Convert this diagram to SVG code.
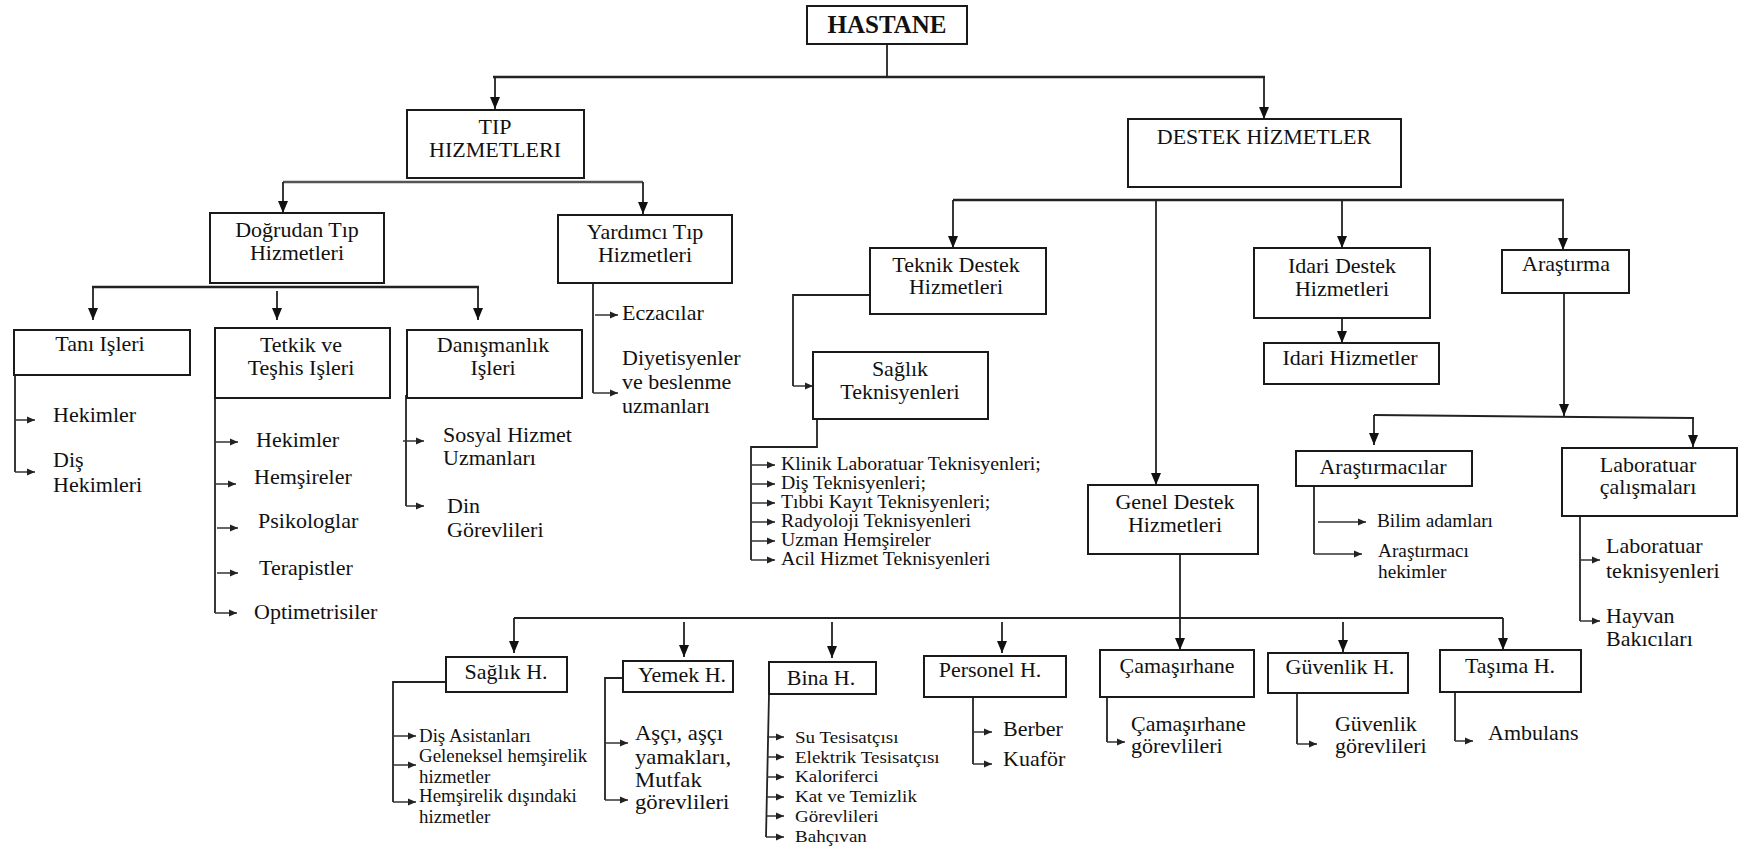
<svg xmlns="http://www.w3.org/2000/svg" width="1738" height="851" viewBox="0 0 1738 851" font-family="'Liberation Serif', 'Times New Roman', Times, serif">
<style>
text{font-size:22px;fill:#111}
.c{text-anchor:middle}
.b{font-weight:bold;font-size:25px}
.s20{font-size:18px}
.s19{font-size:18px}
.s18{font-size:17px}
.s21{font-size:21px}
.s22{font-size:20px}
rect{fill:#fff;stroke:#1a1a1a;stroke-width:2}
.ln{fill:none;stroke:#222;stroke-width:1.8}
.hv{fill:none;stroke:#222;stroke-width:2.6}
.ar{fill:none;stroke:#222;stroke-width:1.8;marker-end:url(#ah)}
.sa{fill:none;stroke:#333;stroke-width:1.5;marker-end:url(#sh)}
</style>
<defs>
<marker id="ah" viewBox="0 0 12 10" refX="12" refY="5" markerWidth="12" markerHeight="10" markerUnits="userSpaceOnUse" orient="auto"><path d="M0,0 L12,5 L0,10 z" fill="#111"/></marker>
<marker id="sh" viewBox="0 0 8 8" refX="8" refY="4" markerWidth="8" markerHeight="8" markerUnits="userSpaceOnUse" orient="auto"><path d="M0,0.5 L8,4 L0,7.5 z" fill="#222"/></marker>
</defs>
<rect x="0" y="0" width="1738" height="851" style="fill:#fff;stroke:none"/>

<g id="connectors">
<path class="ln" d="M887,44 V77"/>
<path class="hv" d="M493,77 H1265"/>
<path class="ar" d="M495,77 V109"/>
<path class="ar" d="M1264,77 V119"/>
<path class="hv" d="M283,182 H643" style="stroke:#555"/>
<path class="ar" d="M283,182 V213"/>
<path class="ar" d="M643,182 V214"/>
<path class="hv" d="M92,287 H479"/>
<path class="ar" d="M93,287 V320"/>
<path class="ar" d="M277,291 V320"/>
<path class="ar" d="M478,287 V320"/>
<path class="ln" d="M15,375 V472"/>
<path class="sa" d="M15,420 H35"/>
<path class="sa" d="M15,472 H35"/>
<path class="ln" d="M215,398 V613"/>
<path class="sa" d="M216,442 H238"/>
<path class="sa" d="M215,484 H236"/>
<path class="sa" d="M217,528 H238"/>
<path class="sa" d="M217,573 H238"/>
<path class="sa" d="M215,613 H237"/>
<path class="ln" d="M406,395 V506"/>
<path class="sa" d="M403,441 H424"/>
<path class="sa" d="M406,506 H424"/>
<path class="ln" d="M593,283 V393"/>
<path class="sa" d="M595,315 H618"/>
<path class="sa" d="M593,393 H618"/>
<path class="hv" d="M953,200 H1564"/>
<path class="ar" d="M953,200 V248"/>
<path class="ar" d="M1156,200 V485"/>
<path class="ar" d="M1342,200 V248"/>
<path class="ar" d="M1563,200 V250"/>
<path class="ln" d="M870,295 H793 V386"/>
<path class="sa" d="M793,386 H813"/>
<path class="ln" d="M817,419 V447 H751 V560"/>
<path class="sa" d="M752,465 H775"/>
<path class="sa" d="M752,484 H775"/>
<path class="sa" d="M752,503 H775"/>
<path class="sa" d="M752,522 H775"/>
<path class="sa" d="M752,541 H775"/>
<path class="sa" d="M751,560 H775"/>
<path class="ar" d="M1342,318 V343"/>
<path class="ar" d="M1564,293 V416"/>
<path class="hv" d="M1374,415 L1694,418" style="stroke-width:2"/>
<path class="ar" d="M1374,415 V445"/>
<path class="ar" d="M1693,418 V447"/>
<path class="ln" d="M1314,486 V554"/>
<path class="sa" d="M1318,522 H1366"/>
<path class="sa" d="M1314,554 H1362"/>
<path class="ln" d="M1580,516 V621"/>
<path class="sa" d="M1580,560 H1600"/>
<path class="sa" d="M1580,621 H1600"/>
<path class="ar" d="M1180,554 V650"/>
<path class="hv" d="M514,618 H1503" style="stroke-width:2.2"/>
<path class="ar" d="M514,618 V653"/>
<path class="ar" d="M684,622 V657"/>
<path class="ar" d="M832,622 V658"/>
<path class="ar" d="M1002,622 V653"/>
<path class="ar" d="M1343,622 V652"/>
<path class="ar" d="M1503,618 V650"/>
<path class="ln" d="M446,682 H393 V802"/>
<path class="sa" d="M393,736 H416"/>
<path class="sa" d="M393,765 H416"/>
<path class="sa" d="M393,802 H416"/>
<path class="ln" d="M623,678 H605 V800"/>
<path class="sa" d="M605,743 H628"/>
<path class="sa" d="M605,800 H628"/>
<path class="ln" d="M769,694 L766,837"/>
<path class="sa" d="M767,737 H784"/>
<path class="sa" d="M767,757 H784"/>
<path class="sa" d="M767,777 H784"/>
<path class="sa" d="M767,797 H784"/>
<path class="sa" d="M767,816 H784"/>
<path class="sa" d="M766,837 H784"/>
<path class="ln" d="M973,697 V764"/>
<path class="sa" d="M973,732 H992"/>
<path class="sa" d="M973,764 H992"/>
<path class="ln" d="M1107,697 V742"/>
<path class="sa" d="M1107,742 H1125"/>
<path class="ln" d="M1297,693 V744"/>
<path class="sa" d="M1297,744 H1317"/>
<path class="ln" d="M1455,692 V741"/>
<path class="sa" d="M1455,741 H1473"/>
</g>

<g id="hastane"><rect x="807" y="6" width="160" height="38"/><text class="c b" x="887" y="33">HASTANE</text></g>
<g id="tip"><rect x="407" y="110" width="177" height="68"/><text class="c" x="495" y="134">TIP</text><text class="c" x="495" y="157">HIZMETLERI</text></g>
<g id="destek"><rect x="1128" y="119" width="273" height="68"/><text class="c" x="1264" y="144">DESTEK HİZMETLER</text></g>

<g id="dogrudan"><rect x="210" y="213" width="174" height="70"/><text class="c" x="297" y="237">Doğrudan Tıp</text><text class="c" x="297" y="260">Hizmetleri</text></g>
<g id="yardimci"><rect x="558" y="215" width="174" height="68"/><text class="c" x="645" y="239">Yardımcı Tıp</text><text class="c" x="645" y="262">Hizmetleri</text></g>
<g id="yardimci-list"><text x="622" y="320">Eczacılar</text><text x="622" y="365">Diyetisyenler</text><text x="622" y="389">ve beslenme</text><text x="622" y="413">uzmanları</text></g>

<g id="tani"><rect x="14" y="330" width="176" height="45"/><text class="c" x="100" y="351">Tanı Işleri</text></g>
<g id="tani-list"><text x="53" y="422">Hekimler</text><text x="53" y="467">Diş</text><text x="53" y="492">Hekimleri</text></g>

<g id="tetkik"><rect x="215" y="328" width="175" height="70"/><text class="c" x="301" y="352">Tetkik ve</text><text class="c" x="301" y="375">Teşhis Işleri</text></g>
<g id="tetkik-list"><text x="256" y="447">Hekimler</text><text x="254" y="484">Hemşireler</text><text x="258" y="528">Psikologlar</text><text x="259" y="575">Terapistler</text><text x="254" y="619">Optimetrisiler</text></g>

<g id="danismanlik"><rect x="407" y="330" width="175" height="68"/><text class="c" x="493" y="352">Danışmanlık</text><text class="c" x="493" y="375">Işleri</text></g>
<g id="danismanlik-list"><text x="443" y="442">Sosyal Hizmet</text><text x="443" y="465">Uzmanları</text><text x="447" y="513">Din</text><text x="447" y="537">Görevlileri</text></g>

<g id="teknik"><rect x="870" y="248" width="176" height="66"/><text class="c" x="956" y="272">Teknik Destek</text><text class="c" x="956" y="294">Hizmetleri</text></g>
<g id="saglik-tek"><rect x="813" y="352" width="175" height="67"/><text class="c" x="900" y="376">Sağlık</text><text class="c" x="900" y="399">Teknisyenleri</text></g>
<g id="saglik-tek-list" transform="translate(781,0) scale(1.1,1) translate(-781,0)"><text class="s20" x="781" y="470">Klinik Laboratuar Teknisyenleri;</text><text class="s20" x="781" y="489">Diş Teknisyenleri;</text><text class="s20" x="781" y="508">Tıbbi Kayıt Teknisyenleri;</text><text class="s20" x="781" y="527">Radyoloji Teknisyenleri</text><text class="s20" x="781" y="546">Uzman Hemşireler</text><text class="s20" x="781" y="565">Acil Hizmet Teknisyenleri</text></g>

<g id="idari"><rect x="1254" y="248" width="176" height="70"/><text class="c" x="1342" y="273">Idari Destek</text><text class="c" x="1342" y="296">Hizmetleri</text></g>
<g id="idari-hiz"><rect x="1264" y="343" width="175" height="41"/><text class="c" x="1350" y="365">Idari Hizmetler</text></g>

<g id="arastirma"><rect x="1502" y="250" width="127" height="43"/><text class="c" x="1566" y="271">Araştırma</text></g>
<g id="arastirmacilar"><rect x="1296" y="451" width="176" height="35"/><text class="c" x="1383" y="474">Araştırmacılar</text></g>
<g id="arastirmacilar-list" transform="translate(1377,0) scale(1.07,1) translate(-1377,0)"><text class="s19" x="1377" y="527">Bilim adamları</text><text class="s19" x="1378" y="557">Araştırmacı</text><text class="s19" x="1378" y="578">hekimler</text></g>
<g id="laboratuar"><rect x="1562" y="448" width="175" height="68"/><text class="c" x="1648" y="472">Laboratuar</text><text class="c" x="1648" y="494">çalışmaları</text></g>
<g id="laboratuar-list"><text x="1606" y="553">Laboratuar</text><text x="1606" y="578">teknisyenleri</text><text x="1606" y="623">Hayvan</text><text x="1606" y="646">Bakıcıları</text></g>

<g id="genel"><rect x="1088" y="485" width="170" height="69"/><text class="c" x="1175" y="509">Genel Destek</text><text class="c" x="1175" y="532">Hizmetleri</text></g>

<g id="saglik-h"><rect x="446" y="657" width="121" height="35"/><text class="c" x="506" y="679">Sağlık H.</text></g>
<g id="saglik-h-list" transform="translate(419,0) scale(1.05,1) translate(-419,0)"><text class="s19" x="419" y="742">Diş Asistanları</text><text class="s19" x="419" y="762">Geleneksel hemşirelik</text><text class="s19" x="419" y="783">hizmetler</text><text class="s19" x="419" y="802">Hemşirelik dışındaki</text><text class="s19" x="419" y="823">hizmetler</text></g>

<g id="yemek-h"><rect x="623" y="661" width="110" height="31"/><text class="c" x="682" y="682">Yemek H.</text></g>
<g id="yemek-h-list" transform="translate(635,0) scale(1.08,1) translate(-635,0)"><text class="s21" x="635" y="740">Aşçı, aşçı</text><text class="s21" x="635" y="764">yamakları,</text><text class="s21" x="635" y="787">Mutfak</text><text class="s21" x="635" y="809">görevlileri</text></g>

<g id="bina-h"><rect x="769" y="662" width="107" height="32"/><text class="c" x="821" y="685">Bina H.</text></g>
<g id="bina-h-list" transform="translate(795,0) scale(1.12,1) translate(-795,0)"><text class="s18" x="795" y="743">Su Tesisatçısı</text><text class="s18" x="795" y="763">Elektrik Tesisatçısı</text><text class="s18" x="795" y="782">Kaloriferci</text><text class="s18" x="795" y="802">Kat ve Temizlik</text><text class="s18" x="795" y="822">Görevlileri</text><text class="s18" x="795" y="842">Bahçıvan</text></g>

<g id="personel-h"><rect x="924" y="656" width="142" height="41"/><text class="c" x="990" y="677">Personel H.</text></g>
<g id="personel-h-list"><text x="1003" y="736">Berber</text><text x="1003" y="766">Kuaför</text></g>

<g id="camasirhane"><rect x="1100" y="650" width="154" height="47"/><text class="c" x="1177" y="673">Çamaşırhane</text></g>
<g id="camasirhane-list" transform="translate(1131,0) scale(1.1,1) translate(-1131,0)"><text class="s22" x="1131" y="731">Çamaşırhane</text><text class="s22" x="1131" y="753">görevlileri</text></g>

<g id="guvenlik-h"><rect x="1268" y="653" width="140" height="40"/><text class="c" x="1340" y="674">Güvenlik H.</text></g>
<g id="guvenlik-h-list" transform="translate(1335,0) scale(1.1,1) translate(-1335,0)"><text class="s22" x="1335" y="731">Güvenlik</text><text class="s22" x="1335" y="753">görevlileri</text></g>

<g id="tasima-h"><rect x="1440" y="650" width="141" height="42"/><text class="c" x="1510" y="673">Taşıma H.</text></g>
<g id="tasima-h-list"><text x="1488" y="740">Ambulans</text></g>
</svg>
